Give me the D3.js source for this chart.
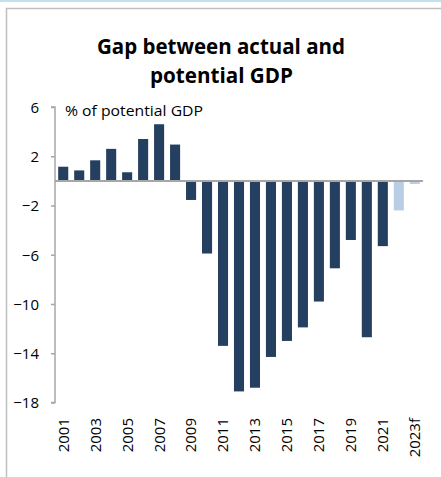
<!DOCTYPE html>
<html><head><meta charset="utf-8">
<script src="https://cdn.jsdelivr.net/npm/d3@7"></script>
<style>body{margin:0;background:#fff}svg{display:block}</style>
</head><body>
<script>
const years = ["2001","2002","2003","2004","2005","2006","2007","2008","2009","2010","2011","2012","2013","2014","2015","2016","2017","2018","2019","2020","2021","2022","2023f"];
const gap = [1.15,0.85,1.67,2.6,0.7,3.4,4.6,2.95,-1.55,-5.9,-13.4,-17.1,-16.8,-14.3,-13.0,-11.9,-9.8,-7.1,-4.8,-12.7,-5.3,-2.4,-0.25];
const forecast = [false,false,false,false,false,false,false,false,false,false,false,false,false,false,false,false,false,false,false,false,false,true,true];
const yTicks = [6,2,-2,-6,-10,-14,-18];
const xLabels = ["2001","2003","2005","2007","2009","2011","2013","2015","2017","2019","2021","2023f"];
const titleLines = ["Gap between actual and","potential  GDP"];
const unitLabel = "% of potential GDP";

const W=441,H=477;
const svg=d3.select("body").append("svg").attr("width",W).attr("height",H);
svg.append("rect").attr("width",W).attr("height",H).attr("fill","#fff");
// top light-blue strip and gray frame
svg.append("rect").attr("x",0).attr("y",0).attr("width",W).attr("height",2).attr("fill","#c3e1ea");
svg.append("path").attr("d",`M6.5,${H} V8.5 H${W}`).attr("fill","none").attr("stroke","#bfbfbf").attr("stroke-width",1.5);

const font="'Open Sans', 'DejaVu Sans', sans-serif";
const x=d3.scaleBand().domain(years).range([55,423]).paddingInner(0.37).paddingOuter(0.2);
const y=d3.scaleLinear().domain([-18,6]).range([402.5,107]);

// title
const tl=[{t:titleLines[0],y:54,w:248,x:221},{t:titleLines[1],y:83,w:143,x:221.5}];
tl.forEach(d=>{
  svg.append("text").attr("x",d.x).attr("y",d.y).attr("text-anchor","middle")
    .attr("font-family",font).attr("font-weight","bold").attr("font-size",22)
    .attr("textLength",d.w).attr("lengthAdjust","spacingAndGlyphs")
    .attr("fill","#000").text(d.t);
});

// bars
svg.append("g").selectAll("rect").data(years).join("rect")
  .attr("x",d=>x(d)).attr("width",x.bandwidth())
  .attr("y",(d,i)=>y(Math.max(0,gap[i])))
  .attr("height",(d,i)=>Math.abs(y(gap[i])-y(0)))
  .attr("fill",(d,i)=>forecast[i]?"#b9cde5":"#243f60");

// y axis
const yAxis=d3.axisLeft(y).tickValues(yTicks).tickSize(4).tickPadding(12).tickFormat(d3.format("d"));
const gy=svg.append("g").attr("transform","translate(55,0)").call(yAxis);
gy.select(".domain").attr("stroke","#a6a6a6").attr("stroke-width",1.5).attr("d",`M-4,${y(6)}H0V${y(-18)}H-4`);
gy.selectAll(".tick line").attr("stroke","#a6a6a6").attr("stroke-width",1.5);
gy.selectAll(".tick text").attr("font-family",font).attr("font-size",15).attr("fill","#000").attr("dy","0.36em");

// zero line
svg.append("line").attr("x1",55).attr("x2",423).attr("y1",y(0)).attr("y2",y(0))
  .attr("stroke","#a6a6a6").attr("stroke-width",2);

// x labels
const xAxis=d3.axisBottom(x).tickValues(xLabels).tickSize(0).tickPadding(0);
const gx=svg.append("g").attr("transform","translate(0,418)").call(xAxis);
gx.select(".domain").remove();
gx.selectAll(".tick text").attr("font-family",font).attr("font-size",15).attr("fill","#000")
  .attr("transform","rotate(-90)").attr("text-anchor","end").attr("x",0).attr("y",0).attr("dy","0.36em").attr("dx","0");

// unit label
svg.append("text").attr("x",65).attr("y",115.5).attr("font-family",font).attr("font-size",15)
  .attr("textLength",138).attr("lengthAdjust","spacingAndGlyphs")
  .attr("fill","#000").text(unitLabel);
</script>
</body></html>
